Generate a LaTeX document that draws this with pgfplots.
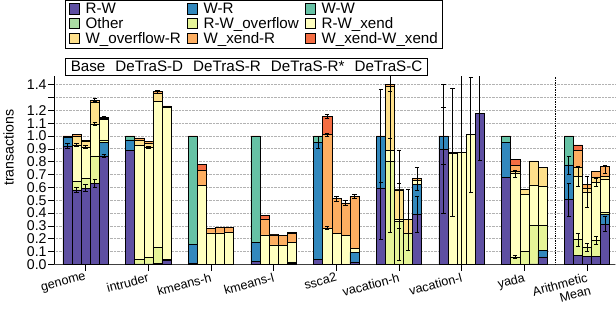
\documentclass[border=0pt]{standalone}
\usepackage{fontspec}
\setmainfont{Liberation Sans}
\usepackage{pgfplots}
\usepackage{pgfplotstable}
\pgfplotsset{compat=1.18}
\definecolor{cRW}{HTML}{5E4FA2}
\definecolor{cWR}{HTML}{3288BD}
\definecolor{cWW}{HTML}{66C2A5}
\definecolor{cOth}{HTML}{ABDDA4}
\definecolor{cRWO}{HTML}{E6F598}
\definecolor{cRWX}{HTML}{FFFFBF}
\definecolor{cWOR}{HTML}{FEE08B}
\definecolor{cWXR}{HTML}{FDAE61}
\definecolor{cWXX}{HTML}{F46D43}

\pgfplotstableread{
x     rw    wr    ww    oth  rwo   rwx   wor   wxr   wxx
-0.29 0.92  0.07  0     0    0     0     0     0     0.01
-0.145 0.58 0     0     0    0.07  0.28  0.065 0.015 0
0     0.595 0     0     0    0.075 0.245 0.045 0.005 0
0.145 0.63  0     0     0    0.215 0.25  0.17  0.015 0
0.29  0.845 0.105 0     0    0.02  0.16  0.01  0.005 0
0.71  0.89  0.08  0.025 0    0     0     0     0     0.005
0.855 0.005 0     0     0    0.035 0.89  0.035 0.02  0
1     0.005 0     0     0    0.05  0.855 0.03  0.015 0
1.145 0.01  0     0     0    0.125 1.135 0.06  0.015 0
1.29  0.03  0     0     0    0.01  1.185 0.005 0.005 0
1.71  0.012 0.145 0.838 0    0     0     0     0     0.005
1.855 0     0     0     0    0     0.615 0     0.117 0.048
2     0     0     0     0    0     0.246 0     0.037 0
2.145 0     0     0     0    0     0.246 0     0.042 0
2.29  0     0     0     0    0     0.251 0     0.039 0
2.71  0.025 0.145 0.825 0    0     0     0     0     0.005
2.855 0     0     0     0    0     0.23  0     0.125 0.025
3     0     0     0     0    0     0.152 0     0.078 0.004
3.145 0     0     0     0    0     0.147 0     0.078 0
3.29  0.01  0     0     0    0.01  0.15  0     0.075 0.005
3.71  0.042 0.908 0.045 0    0     0     0     0     0.005
3.855 0     0     0     0    0     0.283 0     0.727 0.14
4     0     0     0     0    0     0.243 0     0.27  0
4.145 0     0     0     0    0     0.225 0     0.254 0
4.29  0.02  0.075 0     0    0     0.03  0     0.405 0
4.71  0.597 0.398 0     0    0     0     0     0     0.005
4.855 0     0     0     0    0.80  0.085 0.5   0.015 0
5     0     0     0     0    0.335 0.02  0.225 0.005 0
5.145 0     0     0     0    0.243 0     0.105 0     0
5.29  0.393 0.23  0     0    0     0.035 0     0.01  0
5.71  0.9   0.095 0     0    0     0     0     0     0.005
5.855 0     0     0     0    0     0.866 0     0     0.006
6     0     0     0     0    0     0.87  0     0     0
6.145 0     0     0     0    0     1.01  0     0     0
6.29  1.178 0     0     0    0     0     0     0     0
6.71  0.68  0.27  0.045 0    0     0     0     0     0.005
6.855 0     0     0     0    0.06  0.647 0.02  0.045 0.045
7     0     0     0     0    0.1   0.444 0.04  0     0
7.145 0.005 0     0     0    0.3   0.315 0.186 0     0
7.29  0.06  0.047 0     0    0.197 0.306 0.144 0     0
7.71  0.505 0.27  0.22  0    0     0     0     0     0.005
7.855 0.07  0     0     0    0.125 0.49  0.07  0.135 0.04
8     0.065 0     0     0    0.07  0.43  0.025 0.035 0
8.145 0.065 0     0     0    0.125 0.45  0.04  0.045 0
8.29  0.315 0.072 0     0    0.02  0.26  0.02  0.075 0
}\bars

\pgfplotstableread{
x      y     e
-0.29  0.92  0.02
-0.145 0.58  0.02
-0.145 0.93  0.01
0      0.595 0.025
0      0.915 0.015
0.145  0.63  0.03
0.145  1.095 0.015
0.145  1.28  0.01
0.29   0.845 0.015
0.29   1.145 0.005
1      0.91  0.01
1.145  1.345 0.01
3.71   0.95  0.05
3.855  0.283 0.01
3.855  1.01  0.01
3.855  1.15  0.015
4      0.513 0.02
4.145  0.479 0.02
4.29   0.53  0.015
4.71   0.597 0.40
4.71   1.0   0.36
4.855  0.80  0.55
4.855  1.40  0.42
5      0.335 0.30
5      0.585 0.30
5.145  0.348 0.24
5.29   0.393 0.14
5.29   0.668 0.09
5.71   0.9   0.5
5.71   1.0   0.22
5.855  0.872 0.5
6      0.87  0.87
6.145  1.01  0.45
6.29   1.178 0.37
6.855  0.707 0.025
6.855  0.06  0.01
7.71   0.505 0.13
7.71   0.775 0.07
7.855  0.195 0.05
7.855  0.685 0.08
8      0.565 0.12
8      0.135 0.03
8.145  0.19  0.03
8.145  0.64  0.03
8.29   0.315 0.06
8.29   0.74  0.03
}\errs

\pgfplotsset{
  seg/.style={fill=#1, draw=black, line width=0.55pt,
    legend image code/.code={\draw[fill=#1, draw=black, line width=0.6pt] (0pt,-4.5pt) rectangle (10pt,5.5pt);}},
  common/.style={width=555pt, height=186.3pt, scale only axis,
    xmin=-0.5, xmax=8.45, ymin=0, ymax=1.465},
}

\begin{document}
\begin{tikzpicture}
\begin{axis}[
  name=main, common,
  ybar stacked, bar width=0.145,
  axis x line*=bottom, axis y line*=left,
  x axis line style={line width=1.6pt, draw=black!75},
  y axis line style={line width=0.6pt, draw=black},
  tick align=outside, major tick length=6pt,
  tick style={black, line width=0.6pt},
  xtick={0,1,2,3,4,5,6,7,8},
  xticklabels={genome,intruder,kmeans-h,kmeans-l,ssca2,vacation-h,vacation-l,yada,{Arithmetic\\Mean}},
  xticklabel style={rotate=15, anchor=north east, align=right, font=\fontsize{12.5}{13}\selectfont, inner sep=1.5pt},
  ytick={0,0.1,0.2,0.3,0.4,0.5,0.6,0.7,0.8,0.9,1.0,1.1,1.2,1.3,1.4},
  yticklabels={0.0,0.1,0.2,0.3,0.4,0.5,0.6,0.7,0.8,0.9,1.0,1.1,1.2,,1.4},
  yticklabel style={font=\fontsize{14}{14}\selectfont, inner sep=1.5pt},
  ymajorgrids, grid style={densely dotted, black!30, line width=0.8pt},
  ylabel={transactions},
  ylabel shift=8pt,
  ylabel style={font=\fontsize{14}{14}\selectfont, at={(ticklabel cs:0.62)}},
  legend columns=3,
  legend cell align=left,
  legend style={at={(0.0198,1.405)}, anchor=north west, draw=black, line width=0.6pt,
    font=\fontsize{15}{15.5}\selectfont, column sep=4.5pt, row sep=-1.5pt,
    nodes={inner xsep=1.5pt, inner ysep=2pt},
    inner xsep=3pt, inner ysep=1pt},
]
\addplot[seg=cRW]  table[x=x,y=rw]  {\bars};
\addplot[seg=cWR]  table[x=x,y=wr]  {\bars};
\addplot[seg=cWW]  table[x=x,y=ww]  {\bars};
\addplot[seg=cOth] table[x=x,y=oth] {\bars};
\addplot[seg=cRWO] table[x=x,y=rwo] {\bars};
\addplot[seg=cRWX] table[x=x,y=rwx] {\bars};
\addplot[seg=cWOR] table[x=x,y=wor] {\bars};
\addplot[seg=cWXR] table[x=x,y=wxr] {\bars};
\addplot[seg=cWXX] table[x=x,y=wxx] {\bars};
\legend{R-W,W-R,W-W,Other,R-W\_overflow,R-W\_xend,W\_overflow-R,W\_xend-R,W\_xend-W\_xend\hspace{12pt}}
\end{axis}
\begin{axis}[common, hide axis]
\addplot[draw=none, mark=none,
  error bars/.cd, y dir=both, y explicit, error mark=-,
  error bar style={draw=black, line width=0.7pt},
  error mark options={draw=black, rotate=90, mark size=2.2pt, line width=0.7pt}]
  table[x=x, y=y, y error=e] {\errs};
\addplot[densely dotted, black, line width=0.7pt] coordinates {(7.5,0) (7.5,1.465)};
\end{axis}
\node[draw=black, line width=0.6pt, anchor=south west, inner xsep=5pt, inner ysep=3pt,
  font=\fontsize{15}{15.5}\selectfont] at ([xshift=11pt, yshift=1pt]main.north west)
  {Base\hspace{10pt}DeTraS-D\hspace{10pt}DeTraS-R\hspace{10pt}DeTraS-R*\hspace{10pt}DeTraS-C};
\end{tikzpicture}
\end{document}
